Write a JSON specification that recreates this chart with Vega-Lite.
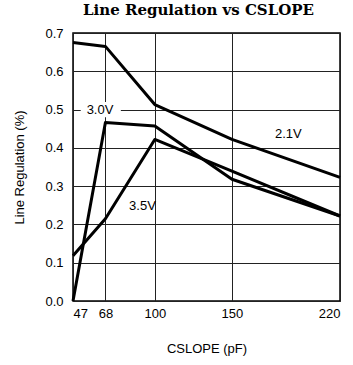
{
  "$schema": "https://vega.github.io/schema/vega-lite/v6.json",
  "width": 267,
  "height": 268,
  "autosize": "none",
  "padding": {"left": 73, "top": 33, "right": 13, "bottom": 64},
  "background": "white",
  "title": {"text": "Line Regulation vs CSLOPE", "font": "DejaVu Serif", "fontWeight": "bold", "fontSize": 15, "offset": 9, "color": "black", "anchor": "middle", "dx": -8},
  "config": {
    "view": {"stroke": "black", "strokeWidth": 1.5},
    "axis": {
      "domain": false, "ticks": false, "grid": true, "gridColor": "#222", "gridWidth": 1, "gridOpacity": 1,
      "labelFont": "Liberation Sans", "labelFontSize": 13, "labelColor": "black", "labelOverlap": false,
      "titleFont": "Liberation Sans", "titleFontSize": 13, "titleFontWeight": "normal", "titleColor": "black"
    }
  },
  "datasets": {
    "curves": [
      {"series": "2.1V", "C": 47, "LR": 0.675},
      {"series": "2.1V", "C": 68, "LR": 0.665},
      {"series": "2.1V", "C": 100, "LR": 0.513},
      {"series": "2.1V", "C": 150, "LR": 0.422},
      {"series": "2.1V", "C": 220, "LR": 0.323},
      {"series": "3.0V", "C": 47, "LR": 0.0},
      {"series": "3.0V", "C": 68, "LR": 0.466},
      {"series": "3.0V", "C": 100, "LR": 0.457},
      {"series": "3.0V", "C": 150, "LR": 0.318},
      {"series": "3.0V", "C": 220, "LR": 0.222},
      {"series": "3.5V", "C": 47, "LR": 0.118},
      {"series": "3.5V", "C": 68, "LR": 0.215},
      {"series": "3.5V", "C": 100, "LR": 0.422},
      {"series": "3.5V", "C": 150, "LR": 0.339},
      {"series": "3.5V", "C": 220, "LR": 0.222}
    ],
    "labels": [
      {"label": "3.0V", "C": 64.5, "LR": 0.5},
      {"label": "3.5V", "C": 92, "LR": 0.248},
      {"label": "2.1V", "C": 186.5, "LR": 0.435}
    ],
    "mask": [
      {"C1": 52, "C2": 78, "LR1": 0.48, "LR2": 0.52}
    ]
  },
  "layer": [
    {
      "data": {"name": "mask"},
      "mark": {"type": "rect", "color": "white"},
      "encoding": {
        "x": {"field": "C1", "type": "quantitative", "scale": {"domain": [47, 220], "nice": false, "zero": false},
              "axis": {"values": [47, 68, 100, 150, 220], "labelPadding": 6, "title": "CSLOPE (pF)", "titlePadding": 22}},
        "x2": {"field": "C2"},
        "y": {"field": "LR1", "type": "quantitative", "scale": {"domain": [0, 0.7], "nice": false},
              "axis": {"values": [0, 0.1, 0.2, 0.3, 0.4, 0.5, 0.6, 0.7], "tickCount": 8, "format": ".1f", "labelPadding": 10, "title": "Line Regulation (%)", "titlePadding": 18}},
        "y2": {"field": "LR2"}
      }
    },
    {
      "data": {"name": "curves"},
      "mark": {"type": "line", "color": "black", "strokeWidth": 3, "strokeJoin": "round"},
      "encoding": {
        "x": {"field": "C", "type": "quantitative",
              "axis": {"values": [47, 68, 100, 150, 220], "labelPadding": 6, "title": "CSLOPE (pF)", "titlePadding": 22}},
        "y": {"field": "LR", "type": "quantitative",
              "axis": {"values": [0, 0.1, 0.2, 0.3, 0.4, 0.5, 0.6, 0.7], "tickCount": 8, "format": ".1f", "labelPadding": 10, "title": "Line Regulation (%)", "titlePadding": 18}},
        "detail": {"field": "series"}
      }
    },
    {
      "data": {"name": "labels"},
      "mark": {"type": "text", "font": "Liberation Sans", "fontSize": 13, "color": "black", "align": "center", "baseline": "middle"},
      "encoding": {
        "x": {"field": "C", "type": "quantitative"},
        "y": {"field": "LR", "type": "quantitative"},
        "text": {"field": "label"}
      }
    }
  ]
}
